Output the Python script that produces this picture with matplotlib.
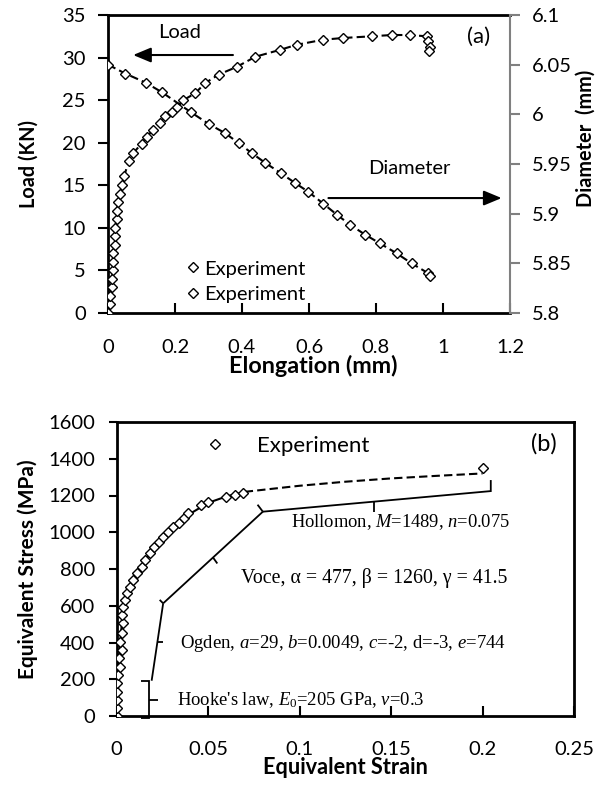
import matplotlib
matplotlib.use("Agg")
import matplotlib.pyplot as plt
from matplotlib.lines import Line2D
from matplotlib.ticker import FuncFormatter

plt.rcParams['font.family'] = ['Lato', 'DejaVu Sans']
plt.rcParams['mathtext.fontset'] = 'custom'
plt.rcParams['mathtext.rm'] = 'Liberation Serif'
plt.rcParams['mathtext.it'] = 'Liberation Serif:italic'

# ---------------- data (a) ----------------
load_elong = [0, 0.006, 0.006, 0.011, 0.011, 0.016, 0.016, 0.016, 0.021, 0.021,
              0.021, 0.026, 0.026, 0.031, 0.036, 0.041, 0.048, 0.063, 0.076, 0.10,
              0.115, 0.135, 0.155, 0.17, 0.19, 0.205, 0.225, 0.26, 0.29, 0.33,
              0.384, 0.44, 0.513, 0.563, 0.643, 0.702, 0.787, 0.847, 0.90, 0.951,
              0.956, 0.961, 0.959]
load_kN = [0, 1, 2, 3, 4, 5, 6, 7, 8, 9,
           10, 11, 12, 13, 14, 15, 16.1, 17.9, 18.8, 19.9,
           20.7, 21.5, 22.3, 23.1, 23.6, 24.2, 25.0, 25.8, 27.0, 28.0,
           28.9, 30.1, 30.9, 31.5, 32.1, 32.3, 32.5, 32.65, 32.65, 32.5,
           31.9, 31.3, 30.8]

dia_elong = [0, 0.052, 0.112, 0.162, 0.248, 0.302, 0.35, 0.39, 0.429, 0.47,
             0.515, 0.558, 0.598, 0.643, 0.683, 0.722, 0.767, 0.812, 0.862, 0.906,
             0.956, 0.961]
dia_mm = [6.050, 6.041, 6.032, 6.022, 6.002, 5.990, 5.981, 5.971, 5.961, 5.951,
          5.941, 5.931, 5.922, 5.910, 5.899, 5.889, 5.879, 5.870, 5.860, 5.850,
          5.840, 5.837]

# ---------------- data (b) ----------------
exp_strain = [0, 0.0003, 0, 0.0003, 0.0003, 0.0009, 0.0018, 0.0015, 0.0027, 0.0018,
              0.0027, 0.0033, 0.0027, 0.0036, 0.0045, 0.0054, 0.0073, 0.0091, 0.011, 0.0136,
              0.0155, 0.018, 0.0206, 0.023, 0.0254, 0.028, 0.031, 0.034, 0.037, 0.039,
              0.046, 0.050, 0.060, 0.0645, 0.069, 0.200]
exp_stress = [0, 42, 87, 132, 178, 223, 268, 314, 359, 404,
              450, 504, 550, 595, 631, 668, 704, 740, 777, 813,
              849, 885, 921, 949, 976, 1003, 1030, 1050, 1080, 1103,
              1148, 1166, 1193, 1203, 1212, 1348]

fit_strain = [0, 0.0005, 0.001, 0.002, 0.003, 0.005, 0.01, 0.015, 0.02, 0.03,
              0.04, 0.05, 0.06, 0.07]
fit_stress = [0, 100, 200, 400, 530, 640, 755, 835, 912, 1020,
              1100, 1160, 1195, 1218]

hol_strain = [0.07, 0.1, 0.125, 0.15, 0.175, 0.2]
hol_stress = [1220, 1253, 1275, 1293, 1307, 1320]

a_xticks = [0, 0.2, 0.4, 0.6, 0.8, 1.0, 1.2]
a_yticks = [0, 5, 10, 15, 20, 25, 30, 35]
a_y2ticks = [5.8, 5.85, 5.9, 5.95, 6.0, 6.05, 6.1]
b_xticks = [0, 0.05, 0.1, 0.15, 0.2, 0.25]
b_yticks = [0, 200, 400, 600, 800, 1000, 1200, 1400, 1600]

fmt = FuncFormatter(lambda v, p: '%g' % v)

W, H = 597, 786
fig = plt.figure(figsize=(W / 100, H / 100), dpi=100)

TFS = 14.5      # tick labels
LFS = 14.5      # legend / text
MS = 5.2

# ================= (a) =================
ax1 = fig.add_axes([108 / W, 1 - 313 / H, 402 / W, 298 / H])
ax1.set_xlim(0, 1.2)
ax1.set_ylim(0, 35)
ax1.set_xticks(a_xticks)
ax1.set_yticks(a_yticks)
ax1.xaxis.set_major_formatter(fmt)
ax1.yaxis.set_major_formatter(fmt)
for s in ['top', 'left', 'bottom']:
    ax1.spines[s].set_linewidth(2)
ax1.spines['right'].set_visible(False)
ax1.tick_params(axis='x', direction='in', length=7, width=1.5, pad=18.5, labelsize=TFS)
ax1.tick_params(axis='y', direction='out', length=7, width=1.5, pad=9, labelsize=TFS)

ax1.plot(load_elong, load_kN, color='black', lw=1.5, ls=(0, (4, 2)),
         marker='D', ms=MS, mfc='white', mec='black', mew=1.0, zorder=3)

ax2 = ax1.twinx()
ax2.set_ylim(5.8, 6.1)
ax2.set_yticks(a_y2ticks)
ax2.yaxis.set_major_formatter(fmt)
for s in ['top', 'left', 'bottom']:
    ax2.spines[s].set_visible(False)
ax2.spines['right'].set_color('#808080')
ax2.spines['right'].set_linewidth(1.5)
ax2.tick_params(axis='y', direction='out', length=7, width=1.5, color='#808080',
                pad=9, labelsize=TFS)
ax2.plot(dia_elong, dia_mm, color='black', lw=1.5, ls=(0, (4, 2)),
         marker='D', ms=MS, mfc='white', mec='black', mew=1.0, zorder=3)

ax1.set_ylabel('Load (KN)', fontsize=14.3, fontweight='bold')
ax1.yaxis.set_label_coords(-0.172, 0.5)
ax1.set_xlabel('Elongation (mm)', fontsize=16.8, fontweight='bold')
ax1.xaxis.set_label_coords(0.51, -0.14)
fig.text(586 / W, 1 - 138 / H, 'Diameter  (mm)', rotation=90, ha='center',
         va='center', fontsize=14.3, fontweight='bold')

arrow_kw = dict(arrowstyle='-|>,head_length=0.6,head_width=0.25', color='black',
                lw=1.5, mutation_scale=18, shrinkA=0, shrinkB=0)
ax1.annotate('', xy=(0.075, 30.3), xytext=(0.373, 30.3), arrowprops=arrow_kw)
ax1.annotate('', xy=(1.175, 13.5), xytext=(0.658, 13.5), arrowprops=arrow_kw)
ax1.text(0.215, 32.9, 'Load', ha='center', va='center', fontsize=LFS)
ax1.text(0.90, 17.0, 'Diameter', ha='center', va='center', fontsize=LFS)
ax1.text(1.105, 32.4, '(a)', ha='center', va='center', fontsize=16)

h = Line2D([], [], ls='none', marker='D', ms=MS, mfc='white', mec='black', mew=1.0)
ax1.legend([h, h], ['Experiment', 'Experiment'], loc='lower left',
           bbox_to_anchor=(0.199, 0.034), frameon=False, fontsize=LFS,
           handlelength=0.5, handletextpad=0.3, borderpad=0, borderaxespad=0,
           labelspacing=0.41)

# ================= (b) =================
bx = fig.add_axes([116.7 / W, 1 - 716 / H, 457.3 / W, 294 / H])
bx.set_xlim(0, 0.25)
bx.set_ylim(0, 1600)
bx.set_xticks(b_xticks)
bx.set_yticks(b_yticks)
bx.xaxis.set_major_formatter(fmt)
bx.yaxis.set_major_formatter(fmt)
for s in bx.spines.values():
    s.set_linewidth(2)
bx.tick_params(axis='x', direction='in', length=7, width=1.5, pad=18, labelsize=TFS)
bx.tick_params(axis='y', direction='out', length=6, width=1.5, pad=9.5, labelsize=TFS)

bx.plot(fit_strain, fit_stress, color='black', lw=1.5, zorder=2)
bx.plot(hol_strain, hol_stress, color='black', lw=1.5, ls=(0, (4, 2)), zorder=2)
bx.plot(exp_strain, exp_stress, ls='none', marker='D', ms=MS, mfc='white',
        mec='black', mew=1.0, zorder=3)

bx.set_ylabel('Equivalent Stress (MPa)', fontsize=15, fontweight='bold')
bx.yaxis.set_label_coords(-0.172, 0.5)
bx.set_xlabel('Equivalent Strain', fontsize=15.7, fontweight='bold')
bx.xaxis.set_label_coords(0.5, -0.14)

bx.legend([h], ['Experiment'], loc='upper left', bbox_to_anchor=(0.1664, 0.952),
          frameon=False, fontsize=16, handlelength=2.0, handletextpad=0.89,
          borderpad=0, borderaxespad=0)
bx.text(0.2335, 1480, '(b)', ha='center', va='center', fontsize=17)

# bracket annotations
bk = dict(color='black', lw=1.3, solid_capstyle='butt', solid_joinstyle='miter')
bx.plot([0.0132, 0.0175, 0.0175, 0.0132], [-12, -12, 190, 190], clip_on=False, **bk)
bx.plot([0.0175, 0.0225], [87, 87], **bk)
bx.plot([0.0191, 0.0254], [192, 613], **bk)
bx.plot([0.0223, 0.0254], [404, 404], **bk)
bx.plot([0.0254, 0.0235], [613, 632], **bk)
bx.plot([0.0254, 0.0799], [613, 1112], **bk)
bx.plot([0.0527, 0.0550], [862, 830], **bk)
bx.plot([0.0799, 0.0770], [1112, 1150], **bk)
bx.plot([0.0799, 0.2045, 0.2045], [1112, 1224, 1284], **bk)
bx.plot([0.1408, 0.1408], [1167, 1112], **bk)

bx.text(0.0955, 1057, 'Hollomon, $M$=1489, $n$=0.075', family='Liberation Serif',
        fontsize=13.3, ha='left', va='center')
bx.text(0.0682, 749, 'Voce, α = 477, β = 1260, γ = 41.5', family='Liberation Serif',
        fontsize=14.3, ha='left', va='center')
bx.text(0.0345, 396, 'Ogden, $a$=29, $b$=0.0049, $c$=-2, d=-3, $e$=744',
        family='Liberation Serif', fontsize=13.5, ha='left', va='center')
bx.text(0.0327, 87, "Hooke's law, $E_0$=205 GPa, $v$=0.3", family='Liberation Serif',
        fontsize=13.4, ha='left', va='center')

fig.savefig('out.png', dpi=100)
